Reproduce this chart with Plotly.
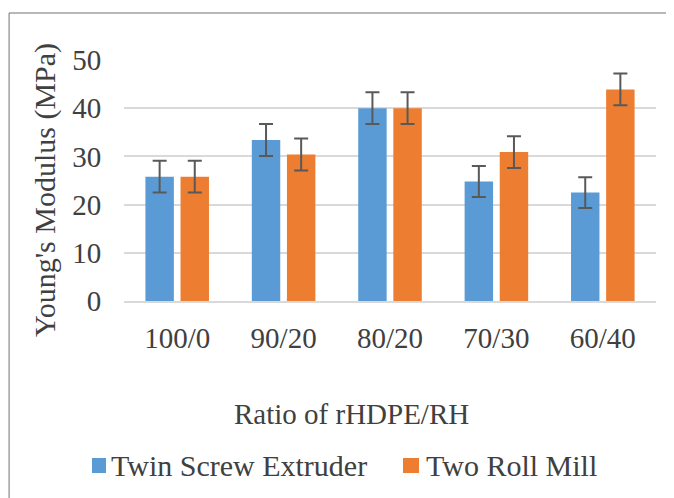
import plotly.graph_objects as go

categories = ["100/0", "90/20", "80/20", "70/30", "60/40"]
twin_screw = [25.8, 33.4, 40.0, 24.8, 22.5]
twin_screw_err = [3.3, 3.3, 3.3, 3.2, 3.2]
two_roll = [25.8, 30.4, 40.0, 30.9, 43.9]
two_roll_err = [3.3, 3.3, 3.3, 3.3, 3.3]
y_ticks = [0, 10, 20, 30, 40, 50]
series_names = ["Twin Screw Extruder", "Two Roll Mill"]
series_colors = ["#5B9BD5", "#ED7D31"]

FONT = "Liberation Serif"
TXT = "#404040"

fig = go.Figure()
fig.add_trace(go.Bar(
    x=categories, y=twin_screw, name=series_names[0],
    marker=dict(color=series_colors[0], line=dict(width=0)),
    error_y=dict(type="data", array=twin_screw_err, visible=True,
                 color="#595959", thickness=2, width=7),
))
fig.add_trace(go.Bar(
    x=categories, y=two_roll, name=series_names[1],
    marker=dict(color=series_colors[1], line=dict(width=0)),
    error_y=dict(type="data", array=two_roll_err, visible=True,
                 color="#595959", thickness=2, width=7),
))

# manual legend (squares + labels), placed in paper coordinates
legend_sq_x = [(-0.0602, -0.0338), (0.5244, 0.5545)]
legend_txt_x = [-0.0282, 0.5639]
legend_shapes = [
    dict(type="rect", xref="paper", yref="paper", x0=a, x1=b, y0=-0.7137, y1=-0.6515,
         fillcolor=c, line=dict(width=0))
    for (a, b), c in zip(legend_sq_x, series_colors)
]
legend_ann = [
    dict(text=n, xref="paper", yref="paper", x=x, y=-0.6805, xanchor="left",
         yanchor="middle", showarrow=False, font=dict(family=FONT, size=30, color=TXT))
    for n, x in zip(series_names, legend_txt_x)
]

fig.update_layout(
    width=674, height=498,
    margin=dict(l=116, r=26, t=52, b=205),
    paper_bgcolor="white", plot_bgcolor="white",
    barmode="group", bargap=0.34, bargroupgap=0.19,
    font=dict(family=FONT, size=29, color=TXT),
    showlegend=False,
    xaxis=dict(showgrid=False, showline=True, linecolor="#D9D9D9", linewidth=1.5,
               ticks="outside", ticklen=10, tickcolor="rgba(0,0,0,0)",
               tickfont=dict(family=FONT, size=29, color=TXT)),
    yaxis=dict(range=[0, 50], tickvals=y_ticks, showgrid=True, gridcolor="#D9D9D9",
               gridwidth=1.5, zeroline=False, showline=False,
               ticks="outside", ticklen=16, tickcolor="rgba(0,0,0,0)",
               tickfont=dict(family=FONT, size=29, color=TXT)),
    annotations=[
        dict(text="Young's Modulus (MPa)", textangle=-90, xref="paper", yref="paper",
             x=-0.1485, y=0.4606, xanchor="center", yanchor="middle", showarrow=False,
             font=dict(family=FONT, size=30, color=TXT)),
        dict(text="Ratio of rHDPE/RH", xref="paper", yref="paper",
             x=0.4276, y=-0.469, xanchor="center", yanchor="middle", showarrow=False,
             font=dict(family=FONT, size=29, color=TXT)),
    ] + legend_ann,
    shapes=[
        dict(type="line", xref="paper", yref="paper", x0=-0.216, x1=1.1, y0=1.195, y1=1.195,
             line=dict(color="#707070", width=1)),
        dict(type="line", xref="paper", yref="paper", x0=-0.216, x1=-0.216, y0=1.195, y1=-0.9,
             line=dict(color="#707070", width=1)),
    ] + legend_shapes,
)

fig.write_html("out.html")
